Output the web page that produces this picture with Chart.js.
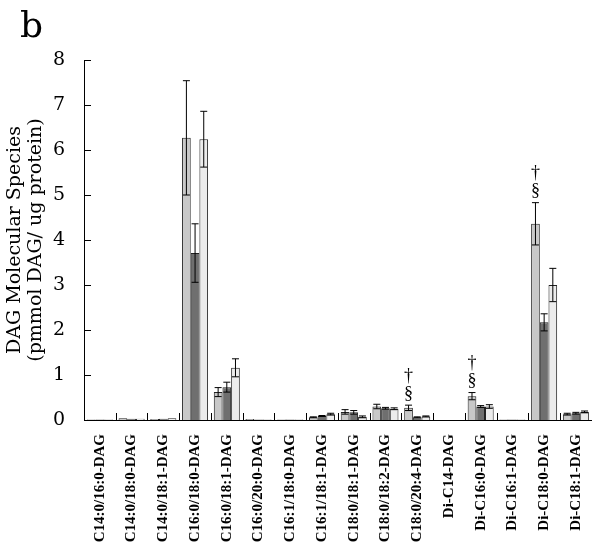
<!DOCTYPE html>
<html>
<head>
<meta charset="utf-8">
<script src="https://cdn.jsdelivr.net/npm/chart.js@4/dist/chart.umd.min.js"></script>
<style>
  html, body { margin: 0; padding: 0; background: #fff; }
  #wrap { position: relative; width: 600px; height: 545px; }
  #panel { position: absolute; left: 20px; top: 4px; font: 36px "DejaVu Serif", serif; }
</style>
</head>
<body>
<div id="wrap">
  <canvas id="dag" width="600" height="545"></canvas>
  <div id="panel">b</div>
</div>
<script>
// categories and values
const categories = ['C14:0/16:0-DAG', 'C14:0/18:0-DAG', 'C14:0/18:1-DAG', 'C16:0/18:0-DAG',
  'C16:0/18:1-DAG', 'C16:0/20:0-DAG', 'C16:1/18:0-DAG', 'C16:1/18:1-DAG', 'C18:0/18:1-DAG',
  'C18:0/18:2-DAG', 'C18:0/20:4-DAG', 'Di-C14-DAG', 'Di-C16:0-DAG', 'Di-C16:1-DAG',
  'Di-C18:0-DAG', 'Di-C18:1-DAG'];

const group1 = [0.01, 0.04, 0.02, 6.27, 0.62, 0.02, 0.01, 0.06, 0.18, 0.30, 0.27, 0.0, 0.53, 0.01, 4.36, 0.13];
const group1Err = [0, 0, 0, 1.27, 0.1, 0, 0, 0.01, 0.05, 0.05, 0.06, 0, 0.08, 0, 0.47, 0.02];
const group2 = [0.01, 0.03, 0.03, 3.71, 0.73, 0.01, 0.01, 0.09, 0.17, 0.26, 0.06, 0.0, 0.30, 0.01, 2.17, 0.15];
const group2Err = [0, 0, 0, 0.65, 0.11, 0, 0, 0.01, 0.04, 0.02, 0.01, 0, 0.02, 0, 0.19, 0.02];
const group3 = [0.01, 0.03, 0.04, 6.24, 1.16, 0.01, 0.01, 0.13, 0.07, 0.25, 0.08, 0.0, 0.30, 0.01, 3.00, 0.18];
const group3Err = [0, 0, 0, 0.62, 0.2, 0, 0, 0.02, 0.02, 0.02, 0.01, 0, 0.04, 0, 0.37, 0.02];

const yTicks = [0, 1, 2, 3, 4, 5, 6, 7, 8];
// significance marks over the first bar
const marks = { 10: ['§', '†'], 12: ['§', '†'], 14: ['§', '†'] };

const serif = '"DejaVu Serif", serif';
const times = '"Liberation Serif", "Times New Roman", serif';
const errs = [group1Err, group2Err, group3Err];

const extras = {
  id: 'extras',
  afterDatasetsDraw(chart) {
    const ctx = chart.ctx;
    const y = chart.scales.y;
    const x = chart.scales.x;
    ctx.save();
    ctx.strokeStyle = '#000';
    ctx.lineWidth = 1;
    // error bars
    chart.data.datasets.forEach((ds, i) => {
      const meta = chart.getDatasetMeta(i);
      meta.data.forEach((bar, j) => {
        const e = errs[i][j];
        if (!e) return;
        const v = ds.data[j];
        const top = y.getPixelForValue(v + e);
        const bot = y.getPixelForValue(v - e);
        ctx.beginPath();
        ctx.moveTo(bar.x, top); ctx.lineTo(bar.x, bot);
        ctx.moveTo(bar.x - 3.5, top); ctx.lineTo(bar.x + 3.5, top);
        ctx.moveTo(bar.x - 3.5, bot); ctx.lineTo(bar.x + 3.5, bot);
        ctx.stroke();
      });
    });
    // inward y ticks
    yTicks.forEach(t => {
      const py = Math.round(y.getPixelForValue(t)) + 0.5;
      ctx.beginPath();
      ctx.moveTo(x.left, py); ctx.lineTo(x.left + 7, py);
      ctx.stroke();
    });
    // category separator ticks
    const half = (x.getPixelForValue(1) - x.getPixelForValue(0)) / 2;
    for (let j = 1; j < categories.length; j++) {
      const px = Math.round(x.getPixelForValue(j) - half) + 0.5;
      ctx.beginPath();
      ctx.moveTo(px, y.bottom); ctx.lineTo(px, y.bottom - 7);
      ctx.stroke();
    }
    // § and † marks
    ctx.fillStyle = '#000';
    ctx.font = '18px ' + times;
    ctx.textAlign = 'center';
    ctx.textBaseline = 'bottom';
    const meta0 = chart.getDatasetMeta(0);
    Object.keys(marks).forEach(k => {
      const j = +k;
      const bar = meta0.data[j];
      let py = y.getPixelForValue(group1[j] + group1Err[j]) - 2;
      marks[k].forEach(s => {
        ctx.fillText(s, bar.x, py);
        py -= 18;
      });
    });
    ctx.restore();
  }
};

new Chart(document.getElementById('dag'), {
  type: 'bar',
  data: {
    labels: categories,
    datasets: [
      { label: 'Group 1', data: group1, backgroundColor: '#c8c8c8', borderColor: '#222', borderWidth: 1 },
      { label: 'Group 2', data: group2, backgroundColor: '#6f6f6f', borderColor: '#222', borderWidth: 1 },
      { label: 'Group 3', data: group3, backgroundColor: '#ececec', borderColor: '#222', borderWidth: 1 }
    ]
  },
  options: {
    responsive: false,
    animation: false,
    categoryPercentage: 0.82,
    barPercentage: 1.0,
    layout: { padding: { top: 60, right: 4, left: 2, bottom: 0 } },
    plugins: {
      legend: { display: false },
      tooltip: { enabled: false }
    },
    scales: {
      x: {
        afterFit(s) { s.height = 125; },
        grid: { display: false },
        border: { color: '#000', width: 1 },
        ticks: {
          color: '#000',
          maxRotation: 90,
          minRotation: 90,
          autoSkip: false,
          padding: 6,
          font: { family: times, size: 15, weight: 'bold' }
        }
      },
      y: {
        min: 0,
        max: 8,
        afterFit(s) { s.width = 82; },
        afterBuildTicks(s) { s.ticks = yTicks.map(v => ({ value: v })); },
        grid: { display: false },
        border: { color: '#000', width: 1 },
        ticks: {
          color: '#000',
          padding: 11,
          font: { family: serif, size: 19 }
        },
        title: {
          display: true,
          text: ['DAG Molecular Species', '(pmmol DAG/ ug protein)'],
          color: '#000',
          padding: { top: 3, bottom: 0 },
          font: { family: serif, size: 19, lineHeight: 1.1 }
        }
      }
    }
  },
  plugins: [extras]
});
</script>
</body>
</html>
